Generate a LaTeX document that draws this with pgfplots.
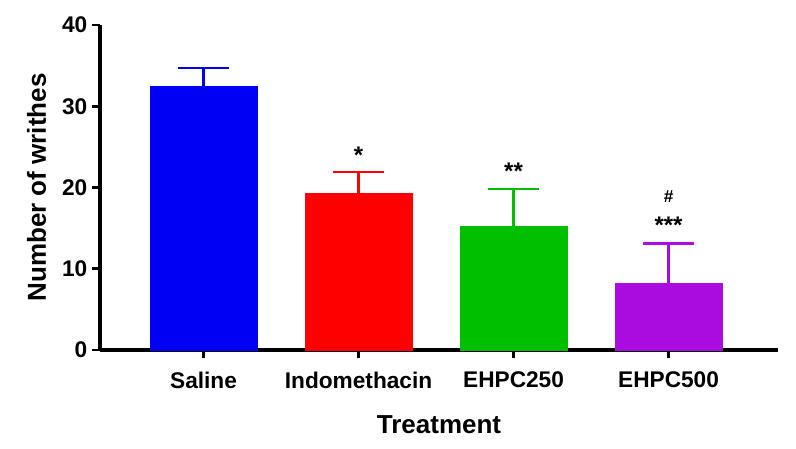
\documentclass[border=0pt]{standalone}
\usepackage{pgfplots}
\pgfplotsset{compat=1.18}
\usepackage{fontspec}
\setmainfont{Liberation Sans}
\definecolor{cblue}{RGB}{0,0,245}
\definecolor{cred}{RGB}{255,0,0}
\definecolor{cgreen}{RGB}{0,190,0}
\definecolor{cpurple}{RGB}{170,12,224}
\begin{document}
\begin{tikzpicture}
\useasboundingbox (-75pt,-74.25pt) rectangle (522pt,262.5pt);
\begin{axis}[
  at={(0,0)}, anchor=south west,
  scale only axis, width=508.5pt, height=243.75pt,
  xmin=-0.668, xmax=3.706, ymin=0, ymax=40,
  axis x line*=bottom, axis y line*=left,
  axis line style={line width=2.6pt, -},
  xtick={0,1,2,3},
  xticklabels={Saline,Indomethacin,EHPC250,EHPC500},
  ytick={0,10,20,30,40},
  tick style={line width=2.2pt, black},
  tick align=outside, major tick length=6pt,
  tick label style={font=\fontsize{17}{20}\selectfont\bfseries},
  /pgf/number format/assume math mode=true,
  xticklabel style={yshift=-7pt},
  xlabel={Treatment}, ylabel={Number of writhes},
  label style={font=\fontsize{19.5}{22}\selectfont\bfseries},
  xlabel style={yshift=-13pt},
  ylabel style={yshift=5pt},
  ybar, bar width=80pt, bar shift=0pt,
  clip=false,
]
\addplot+[fill=cblue, draw=cblue, error bars/.cd, y dir=plus, y explicit, error bar style={line width=1.8pt, cblue}, error mark options={rotate=90, mark size=19pt, line width=1.8pt, cblue}]
  coordinates {(0,32.5) +- (0,2.2)};
\addplot+[fill=cred, draw=cred, error bars/.cd, y dir=plus, y explicit, error bar style={line width=1.8pt, cred}, error mark options={rotate=90, mark size=19pt, line width=1.8pt, cred}]
  coordinates {(1,19.3) +- (0,2.6)};
\addplot+[fill=cgreen, draw=cgreen, error bars/.cd, y dir=plus, y explicit, error bar style={line width=1.8pt, cgreen}, error mark options={rotate=90, mark size=19pt, line width=1.8pt, cgreen}]
  coordinates {(2,15.2) +- (0,4.6)};
\addplot+[fill=cpurple, draw=cpurple, error bars/.cd, y dir=plus, y explicit, error bar style={line width=1.8pt, cpurple}, error mark options={rotate=90, mark size=19pt, line width=1.8pt, cpurple}]
  coordinates {(3,8.2) +- (0,4.9)};
\node[font=\fontsize{18}{20}\selectfont\bfseries] at (axis cs:1,24.0) {*};
\node[font=\fontsize{18}{20}\selectfont\bfseries] at (axis cs:2,22.0) {**};
\node[font=\fontsize{18}{20}\selectfont\bfseries] at (axis cs:3,15.3) {***};
\node[font=\fontsize{13}{15}\selectfont\bfseries] at (axis cs:3,18.9) {\#};
\end{axis}
\end{tikzpicture}
\end{document}
